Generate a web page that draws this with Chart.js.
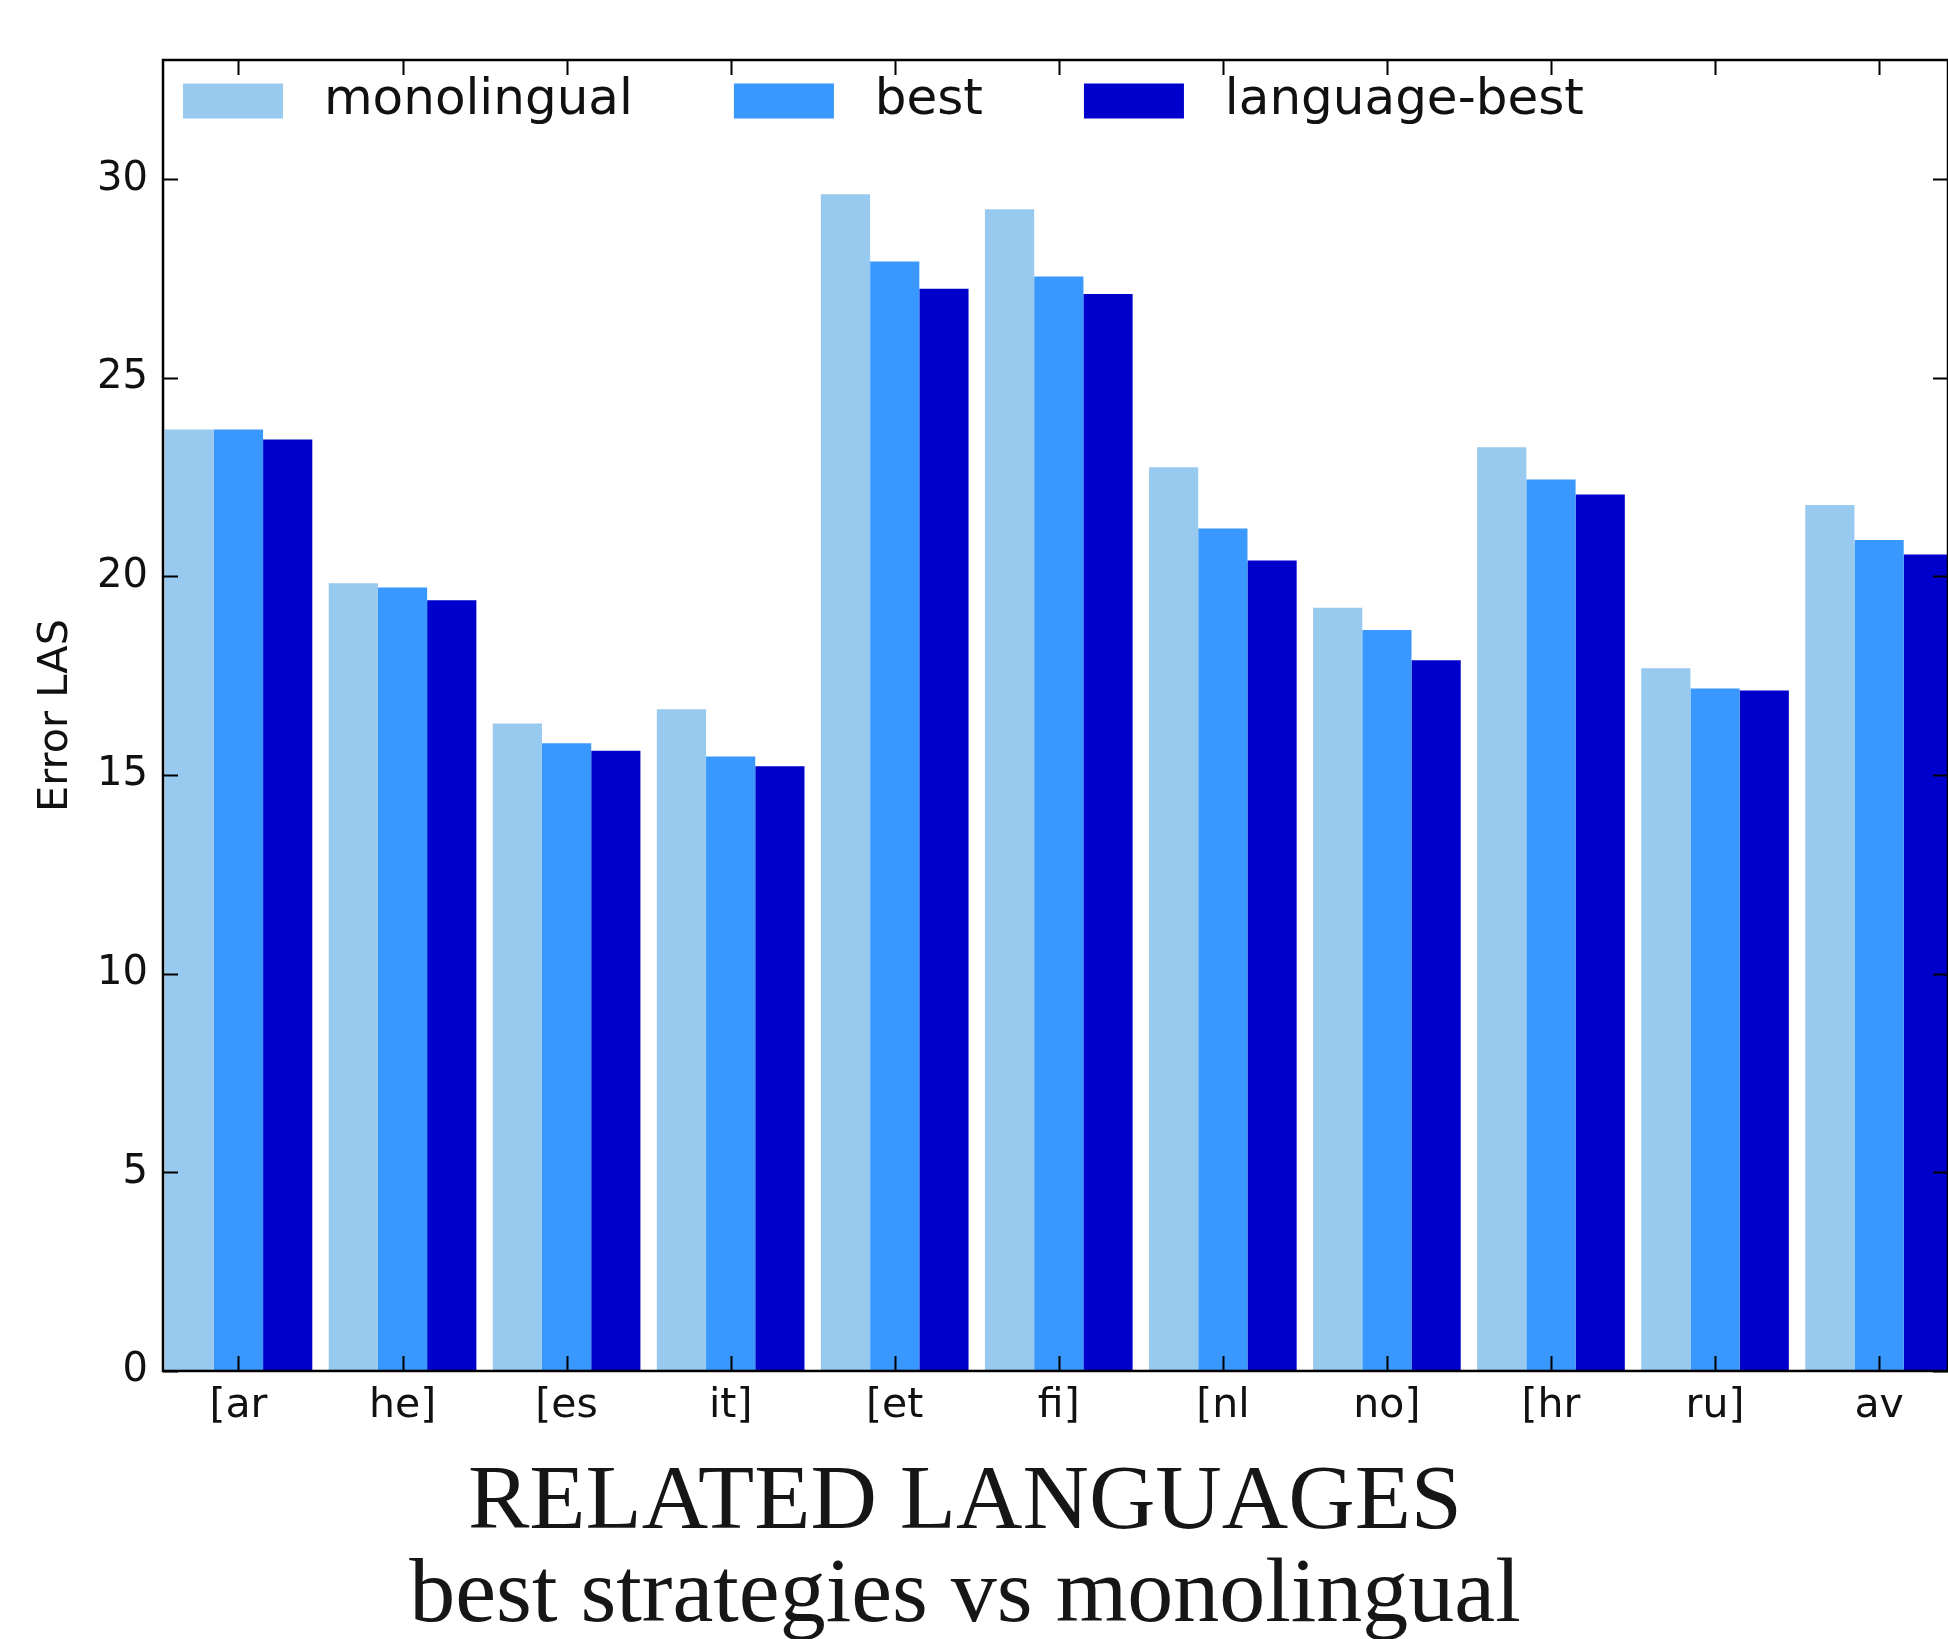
<!DOCTYPE html>
<html>
<head>
<meta charset="utf-8">
<script src="https://cdn.jsdelivr.net/npm/chart.js@4.4.1/dist/chart.umd.min.js"></script>
<style>
  html, body { margin: 0; padding: 0; background: #ffffff; }
  #wrap { width: 1948px; height: 1639px; position: relative; overflow: hidden; }
</style>
</head>
<body>
<div id="wrap"><canvas id="c"></canvas></div>
<script>
// ---- data ----
const categories = ['[ar', 'he]', '[es', 'it]', '[et', 'fi]', '[nl', 'no]', '[hr', 'ru]', 'av'];
const monolingual  = [23.70, 19.83, 16.30, 16.66, 29.62, 29.24, 22.75, 19.21, 23.25, 17.69, 21.80];
const best         = [23.70, 19.72, 15.80, 15.47, 27.93, 27.55, 21.21, 18.65, 22.44, 17.18, 20.92];
const languageBest = [23.45, 19.40, 15.61, 15.22, 27.24, 27.11, 20.40, 17.89, 22.06, 17.13, 20.55];
const seriesNames  = ['monolingual', 'best', 'language-best'];
const yTickValues  = [0, 5, 10, 15, 20, 25, 30];
const titleLines   = ['RELATED LANGUAGES', 'best strategies vs monolingual'];
const yAxisTitle   = 'Error LAS';

const colors = ['#98c9ee', '#3898fd', '#0000cc'];
const toPoints = arr => arr.map((v, i) => ({ x: i, y: v }));

// inward ticks + frame (matplotlib style)
const framePlugin = {
  id: 'frame',
  afterDatasetsDraw(chart) {
    const { ctx, chartArea: a, scales: { x, y } } = chart;
    ctx.save();
    ctx.strokeStyle = '#000';
    ctx.lineWidth = 2;
    const L = 15;
    yTickValues.forEach(v => {
      const py = Math.round(y.getPixelForValue(v)) + 0.5;
      ctx.beginPath();
      ctx.moveTo(a.left, py); ctx.lineTo(a.left + L, py);
      ctx.moveTo(a.right, py); ctx.lineTo(a.right - L, py);
      ctx.stroke();
    });
    categories.forEach((c, i) => {
      const px = Math.round(x.getPixelForValue(i)) + 0.5;
      ctx.beginPath();
      ctx.moveTo(px, a.bottom); ctx.lineTo(px, a.bottom - L);
      ctx.moveTo(px, a.top); ctx.lineTo(px, a.top + L);
      ctx.stroke();
    });
    ctx.lineWidth = 2.5;
    ctx.strokeRect(a.left, a.top, a.right - a.left, a.bottom - a.top);
    ctx.restore();
  }
};

// place the legend inside the plot area (upper left) and nudge the caption
const layoutTweaks = {
  id: 'layoutTweaks',
  afterLayout(chart) {
    const lg = chart.legend;
    if (lg) {
      const pad = lg.options.labels.padding;
      const left = 183 - pad;
      const top = 76 - pad;
      lg.left = left; lg.right = 1940;
      lg.top = top; lg.bottom = top + 200;
      lg.width = lg.right - lg.left; lg.height = 200;
      if (lg.adjustHitBoxes) lg.adjustHitBoxes();
    }
    const tb = chart.titleBlock;
    if (tb) {
      tb.left -= 9; tb.right -= 9;
      tb.top += 4; tb.bottom += 4;
    }
  }
};

new Chart(document.getElementById('c'), {
  type: 'bar',
  data: {
    datasets: [
      { label: seriesNames[0], data: toPoints(monolingual),  backgroundColor: colors[0] },
      { label: seriesNames[1], data: toPoints(best),         backgroundColor: colors[1] },
      { label: seriesNames[2], data: toPoints(languageBest), backgroundColor: colors[2] }
    ]
  },
  plugins: [framePlugin, layoutTweaks],
  options: {
    responsive: true,
    maintainAspectRatio: false,
    animation: false,
    devicePixelRatio: 1,
    layout: { padding: { top: 59, right: 0, bottom: 0, left: 0 } },
    datasets: { bar: { categoryPercentage: 0.9, barPercentage: 1.0, borderWidth: 0, clip: 0 } },
    scales: {
      x: {
        type: 'linear',
        min: -0.46,
        max: 10.42,
        offset: false,
        grid: { display: false, drawTicks: false },
        border: { display: false },
        afterBuildTicks(scale) { scale.ticks = categories.map((c, i) => ({ value: i })); },
        afterFit(scale) { scale.height = 74; },
        ticks: {
          autoSkip: false,
          maxRotation: 0,
          padding: 11,
          color: '#111',
          font: { family: 'DejaVu Sans', size: 41, lineHeight: 1.2 },
          callback: (v) => categories[Math.round(v)]
        }
      },
      y: {
        min: 0,
        max: 33,
        grid: { display: false, drawTicks: false },
        border: { display: false },
        afterBuildTicks(scale) { scale.ticks = yTickValues.map(v => ({ value: v })); },
        afterFit(scale) { scale.width = 163; },
        ticks: {
          padding: 15,
          color: '#111',
          font: { family: 'DejaVu Sans', size: 40, lineHeight: 1.2 }
        },
        title: {
          display: true,
          text: yAxisTitle,
          color: '#111',
          padding: { top: 31, bottom: 0 },
          font: { family: 'DejaVu Sans', size: 41.5, lineHeight: 1.2 }
        }
      }
    },
    plugins: {
      tooltip: { enabled: false },
      legend: {
        display: true,
        position: 'top',
        align: 'start',
        maxHeight: 1,
        labels: {
          boxWidth: 100,
          boxHeight: 35,
          padding: 101,
          color: '#111',
          font: { family: 'DejaVu Sans', size: 50 },
          generateLabels(chart) {
            const items = Chart.defaults.plugins.legend.labels.generateLabels(chart);
            items.forEach(it => { it.text = ' ' + it.text; it.lineWidth = 0; });
            return items;
          }
        }
      },
      title: {
        display: true,
        position: 'bottom',
        text: titleLines,
        color: '#161616',
        padding: { top: 8, bottom: 0 },
        font: { family: 'Liberation Serif', size: 92, weight: 'normal', lineHeight: 1.011 }
      }
    }
  }
});
</script>
</body>
</html>
